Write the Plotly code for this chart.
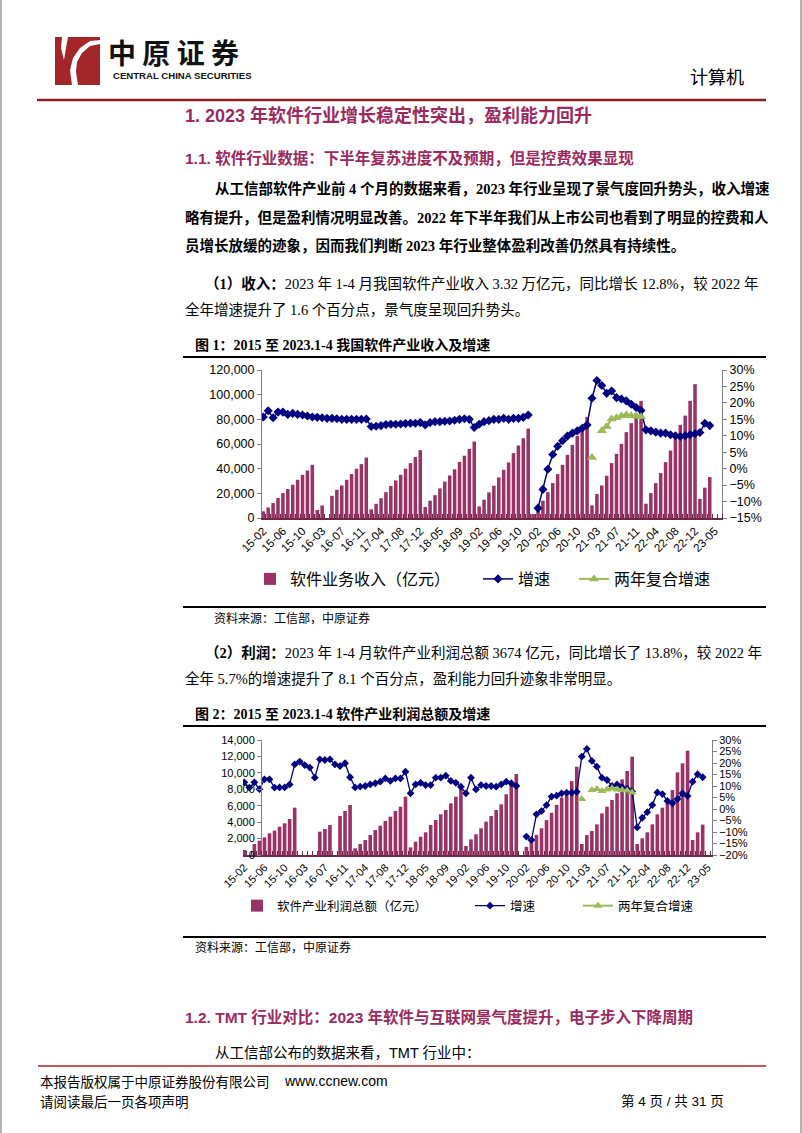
import plotly.graph_objects as go

W, H = 802, 1133
def X(p): return p / W
def Y(p): return 1 - p / H

# ---------------- data ----------------
tick_labels = ["15-02", "15-06", "15-10", "16-03", "16-07", "16-11", "17-04", "17-08",
               "17-12", "18-05", "18-09", "19-02", "19-06", "19-10", "20-02", "20-06",
               "20-10", "21-03", "21-07", "21-11", "22-04", "22-08", "22-12", "23-05"]

# 软件业务收入（亿元）, cumulative by month
rev_2015 = [5400, 8600, 12100, 16200, 20200, 23500, 27000, 31000, 35000, 38500, 43100]
rev_2016 = [6500, 10200, None, 18000, 22900, 26400, 31000, 35600, 39900, 43700, 49000]
rev_2017 = [7000, 11500, 16000, 21000, 26000, 30500, 35000, 40000, 44500, 49500, 55000]
rev_2018 = [9000, 14000, 18500, 24000, 29500, 34500, 39500, 45500, 50500, 56000, 62000]
rev_2019 = [9400, 14800, 20800, 26200, 32900, 39100, 45000, 52600, 58800, 64700, 72500]
rev_2020 = [3200, 8000, 14000, 21000, 28300, 35600, 43100, 51200, 59300, 66600, 72300, 82000]
rev_2021 = [10250, 19400, 26400, 34200, 44500, 52000, 60100, 69600, 76900, 85000, 95000]
rev_2022 = [11600, 20200, 28300, 36400, 45300, 54700, 64700, 75500, 83000, 95000, 108500]
rev_2023 = [15500, 24600, 33200, None]

# 增速 (%)
revg_2015 = [15.7, 17.6, 15.5, 17.2, 17.2, 16.5, 16.8, 16.5, 16.3, 16.0, 15.7]
revg_2016 = [15.6, 15.5, 15.3, 15.3, 15.2, 15.0, 15.0, 15.0, 15.0, 15.0, 15.1]
revg_2017 = [12.8, 12.9, 13.1, 13.4, 13.5, 13.5, 13.6, 13.7, 13.8, 13.8, 14.0]
revg_2018 = [13.3, 14.0, 14.3, 14.3, 14.4, 14.5, 14.7, 15.0, 15.2, 15.0, 12.5]
revg_2019 = [13.5, 14.3, 14.6, 15.0, 15.0, 15.3, 15.0, 15.3, 15.3, 15.6, 16.3]
revg_2020 = [None, -12.0, -6.3, -0.2, 4.3, 6.8, 8.5, 9.9, 10.8, 11.5, 12.3, 13.3]
revg_2021 = [21.4, 26.8, 25.3, 22.9, 23.6, 21.6, 21.2, 20.6, 19.6, 18.6, 17.7]
revg_2022 = [11.8, 11.5, 11.1, 10.8, 10.8, 10.3, 10.0, 9.8, 10.0, 10.3, 10.6]
revg_2023 = [11.0, 13.8, 13.1, None]

# 两年复合增速 (%), 2021 only
revc_2021 = [3.4, None, 11.5, 12.8, 15.1, 15.5, 16.0, 16.3, 16.1, 16.0, 15.8]

# 软件产业利润总额（亿元）
pro_2015 = [610, None, 1340, 1745, 2150, 2640, 2960, 3450, 3855, 4380, 5760]
pro_2016 = [None, None, None, None, 2840, 3165, 3650, None, 4750, 5360, 6090]
pro_2017 = [810, 1340, 1830, 2430, 3040, 3570, 4140, 4670, 5360, 5880, 7100]
pro_2018 = [930, 1620, 2230, 2760, 3650, 4260, 4950, 5480, 6290, 7100, 8200]
pro_2019 = [1100, 1900, 2520, 3250, 4060, 4750, 5480, 6170, 7390, 8600, 9860]
pro_2020 = [None, 1000, 1650, 2450, 3250, 4250, 5150, 6100, 7000, 7700, 9000, 10750]
pro_2021 = [1340, 2430, 2920, 3730, 5070, 5880, 6700, 7510, 9210, 10230, 11970]
pro_2022 = [1340, 2030, 2760, 3730, 4950, 5760, 6570, 7910, 10060, 11160, 12700]
pro_2023 = [1830, 2760, 3700, None]

prog_2015 = [11.6, 9.3, 11.6, 8.6, 12.9, 12.9, 9.3, 9.4, 9.4, 10.7, 19.4]
prog_2016 = [20.6, 19.1, 18.0, 13.6, 21.6, 21.3, 21.6, 19.4, 18.7, 19.9, 13.8]
prog_2017 = [9.4, 9.7, 10.0, 10.7, 11.2, 11.9, 13.3, 12.2, 13.3, 13.3, 16.2]
prog_2018 = [6.8, 10.7, 11.4, 10.4, 10.4, 13.6, 13.6, 14.5, 12.2, 11.4, 9.7]
prog_2019 = [6.8, 13.6, 8.5, 10.4, 10.0, 10.0, 9.7, 10.7, 11.9, 11.2, 10.0]
prog_2020 = [None, -12.0, -13.5, -2.3, -0.9, 1.7, 5.4, 5.8, 6.8, 7.1, 7.1, 7.5]
prog_2021 = [22.8, 26.1, 20.9, 18.4, 13.6, 12.6, 10.0, 10.7, 9.5, 8.8, 7.6]
prog_2022 = [-8.0, -3.8, -1.4, 1.7, 7.2, 6.5, 3.5, 2.5, 4.3, 6.8, 5.7]
prog_2023 = [11.9, 15.1, 13.8, None]

proc_2021 = [4.3, None, 8.3, 8.7, 7.8, 8.5, 9.0, 8.5, 8.3, 8.0, 7.2]

# ---------------- assemble series ----------------
months = []
for yy in range(15, 24):
    if yy == 20:
        mlist = range(1, 13)
    elif yy == 23:
        mlist = range(2, 6)
    else:
        mlist = range(2, 13)
    for m in mlist:
        months.append(f"{yy}-{m:02d}")
pos = list(range(len(months)))
tickpos = [months.index(t) for t in tick_labels]

revenue = rev_2015 + rev_2016 + rev_2017 + rev_2018 + rev_2019 + rev_2020 + rev_2021 + rev_2022 + rev_2023
rev_growth = revg_2015 + revg_2016 + revg_2017 + revg_2018 + revg_2019 + revg_2020 + revg_2021 + revg_2022 + revg_2023
n_before_2021 = len(rev_2015 + rev_2016 + rev_2017 + rev_2018 + rev_2019 + rev_2020)
rev_cagr = [None] * n_before_2021 + revc_2021 + [None] * (len(months) - n_before_2021 - len(revc_2021))

profit = pro_2015 + pro_2016 + pro_2017 + pro_2018 + pro_2019 + pro_2020 + pro_2021 + pro_2022 + pro_2023
pro_growth = prog_2015 + prog_2016 + prog_2017 + prog_2018 + prog_2019 + prog_2020 + prog_2021 + prog_2022 + prog_2023
pro_cagr = [None] * n_before_2021 + proc_2021 + [None] * (len(months) - n_before_2021 - len(proc_2021))

BAR = "#993366"
NAVY = "#000080"
GREEN = "#9BBB59"
TITLE = "#9B2A5E"
CJK = "Noto Sans CJK SC"
BODY = "Liberation Serif, Noto Sans CJK SC"
ARIAL = "Liberation Sans, Arial, Noto Sans CJK SC"

fig = go.Figure()

# chart 1
fig.add_trace(go.Bar(x=pos, y=revenue, marker=dict(color=BAR, line=dict(width=0)), width=0.72,
                     name="软件业务收入（亿元）", xaxis="x", yaxis="y", legend="legend"))
fig.add_trace(go.Scatter(x=pos, y=rev_growth, mode="lines+markers", name="增速",
                         line=dict(color=NAVY, width=1.5),
                         marker=dict(symbol="diamond", size=7, color=NAVY),
                         xaxis="x", yaxis="y2", legend="legend2"))
fig.add_trace(go.Scatter(x=pos, y=rev_cagr, mode="lines+markers", name="两年复合增速",
                         line=dict(color=GREEN, width=2),
                         marker=dict(symbol="triangle-up", size=9, color=GREEN),
                         xaxis="x", yaxis="y2", legend="legend3"))
# chart 2
fig.add_trace(go.Bar(x=pos, y=profit, marker=dict(color=BAR, line=dict(width=0)), width=0.72,
                     name="软件产业利润总额（亿元）", xaxis="x2", yaxis="y3", legend="legend4"))
fig.add_trace(go.Scatter(x=pos, y=pro_growth, mode="lines+markers", name="增速",
                         line=dict(color=NAVY, width=1.3),
                         marker=dict(symbol="diamond", size=6, color=NAVY),
                         xaxis="x2", yaxis="y4", legend="legend5"))
fig.add_trace(go.Scatter(x=pos, y=pro_cagr, mode="lines+markers", name="两年复合增速",
                         line=dict(color=GREEN, width=2),
                         marker=dict(symbol="triangle-up", size=8, color=GREEN),
                         xaxis="x2", yaxis="y4", legend="legend6"))

axis_common = dict(showgrid=False, zeroline=False, showline=True, linecolor="#808080",
                   linewidth=1, ticks="outside", ticklen=4, tickcolor="#808080", automargin=False)

def xaxis_cfg(domain, anchor, rng, fsize):
    return dict(domain=domain, anchor=anchor, range=rng, tickmode="array", tickvals=tickpos,
                ticktext=tick_labels, tickangle=-45, ticks="", showgrid=False, zeroline=False,
                showline=True, linecolor="#6b2848", linewidth=1.5, automargin=False,
                tickfont=dict(family=ARIAL, size=fsize, color="#000"),
                minor=dict(tickmode="linear", tick0=-0.5, dtick=1, ticks="inside", ticklen=4,
                           tickcolor="#6b2848", showgrid=False))

fig.update_layout(
    width=W, height=H, margin=dict(l=0, r=0, t=0, b=0, pad=0, autoexpand=False),
    paper_bgcolor="white", plot_bgcolor="rgba(0,0,0,0)",
    bargap=0.28, showlegend=True,
    xaxis=xaxis_cfg([X(262), X(722)], "y", [-0.26, 93.5], 11.5),
    yaxis=dict(domain=[Y(518), Y(370)], range=[0, 120000], dtick=20000, tickformat=",",
               tickfont=dict(family=ARIAL, size=12.5, color="#000"), **axis_common),
    yaxis2=dict(overlaying="y", side="right", anchor="x", range=[-15, 30], dtick=5,
                ticksuffix="%", tickfont=dict(family=ARIAL, size=12.5, color="#000"), **axis_common),
    xaxis2=xaxis_cfg([X(243), X(712)], "y3", [-0.26, 92.85], 11),
    yaxis3=dict(domain=[Y(855), Y(740)], range=[0, 14000], dtick=2000, tickformat=",",
                tickfont=dict(family=ARIAL, size=11, color="#000"), **axis_common),
    yaxis4=dict(overlaying="y3", side="right", anchor="x2", range=[-20, 30], dtick=5,
                ticksuffix="%", tickfont=dict(family=ARIAL, size=11, color="#000"), **axis_common),
)

def leg(x, y, size):
    return dict(x=X(x), y=Y(y), xanchor="left", yanchor="middle", orientation="h",
                bgcolor="rgba(0,0,0,0)", font=dict(family=CJK, size=size, color="#000"),
                itemwidth=30)

fig.update_layout(legend=leg(250, 579, 16), legend2=leg(478, 579, 16), legend3=leg(574, 579, 16),
                  legend4=leg(237, 906, 12.5), legend5=leg(470, 906, 12.5), legend6=leg(578, 906, 12.5))

# ---------------- page text ----------------
ann = []
def T(x, y, text, size, family=BODY, color="#000", anchor="left"):
    ann.append(dict(x=X(x), y=Y(y), xref="paper", yref="paper", text=text, showarrow=False,
                    xanchor=anchor, yanchor="middle", font=dict(family=family, size=size, color=color)))

# header
T(106, 52, "<b>中 原 证 券</b>", 28, family=CJK, color="#111")
T(111, 76, "<b>CENTRAL CHINA SECURITIES</b>", 9.6, family="Liberation Sans Narrow, Liberation Sans", color="#111")
T(746, 76, "计算机", 18, family=CJK, anchor="right")

T(183, 115, "<b>1. 2023 年软件行业增长稳定性突出，盈利能力回升</b>", 18, family=ARIAL, color=TITLE)
T(183, 158, "<b>1.1. 软件行业数据：下半年复苏进度不及预期，但是控费效果显现</b>", 15.5, family=ARIAL, color=TITLE)

T(213, 188, "<b>从工信部软件产业前 4 个月的数据来看，2023 年行业呈现了景气度回升势头，收入增速</b>", 14.5)
T(183, 217, "<b>略有提升，但是盈利情况明显改善。2022 年下半年我们从上市公司也看到了明显的控费和人</b>", 14.5)
T(183, 246, "<b>员增长放缓的迹象，因而我们判断 2023 年行业整体盈利改善仍然具有持续性。</b>", 14.5)

T(203, 283, "<b>（1）收入：</b>2023 年 1-4 月我国软件产业收入 3.32 万亿元，同比增长 12.8%，较 2022 年", 14.5)
T(183, 309, "全年增速提升了 1.6 个百分点，景气度呈现回升势头。", 14.5)

T(193, 345, "<b>图 1：2015 至 2023.1-4 我国软件产业收入及增速</b>", 14)
T(212, 618, "资料来源：工信部，中原证券", 12)

T(203, 652, "<b>（2）利润：</b>2023 年 1-4 月软件产业利润总额 3674 亿元，同比增长了 13.8%，较 2022 年", 14.5)
T(183, 678, "全年 5.7%的增速提升了 8.1 个百分点，盈利能力回升迹象非常明显。", 14.5)

T(193, 714, "<b>图 2：2015 至 2023.1-4 软件产业利润总额及增速</b>", 14)
T(193, 947, "资料来源：工信部，中原证券", 12)

T(183, 1017, "<b>1.2. TMT 行业对比：2023 年软件与互联网景气度提升，电子步入下降周期</b>", 15.5, family=ARIAL, color=TITLE)
T(213, 1053, "从工信部公布的数据来看，TMT 行业中：", 14.5, family="Liberation Sans, Noto Sans CJK SC")

T(38, 1081, "本报告版权属于中原证券股份有限公司", 13.5, family=CJK)
T(282, 1081, "www.ccnew.com", 14, family=ARIAL)
T(38, 1101, "请阅读最后一页各项声明", 13.5, family=CJK)
T(726, 1101, "第 4 页 / 共 31 页", 13.5, family="Liberation Sans, Noto Sans CJK SC", anchor="right")

fig.update_layout(annotations=ann)

# ---------------- page shapes ----------------
shapes = []
def line(x0, y0, x1, y1, color, w):
    shapes.append(dict(type="line", xref="paper", yref="paper", x0=X(x0), y0=Y(y0), x1=X(x1), y1=Y(y1),
                       line=dict(color=color, width=w)))
# page border
line(1, 0, 1, H, "#9a9a9a", 1.5)
line(801, 0, 801, H, "#9a9a9a", 1.5)
# logo block
shapes.append(dict(type="rect", xref="paper", yref="paper", x0=X(55), y0=Y(85), x1=X(100), y1=Y(37),
                   fillcolor="#A3262A", line=dict(width=0)))
def P(pts):
    s = ""
    for i, (a, b) in enumerate(pts):
        s += ("M" if i == 0 else "L") + f"{X(a):.5f},{Y(b):.5f} "
    return s + "Z"
shapes.append(dict(type="path", xref="paper", yref="paper",
                   path=P([(72, 85), (70, 70), (73, 58), (80, 48), (90, 41), (100, 40), (100, 44),
                           (90, 46), (82, 53), (77, 62), (76, 72), (78, 85)]),
                   fillcolor="white", line=dict(width=0)))
shapes.append(dict(type="path", xref="paper", yref="paper",
                   path=P([(62, 37), (68, 37), (66, 48), (64, 60), (61, 48)]),
                   fillcolor="white", line=dict(width=0)))
# header rule
line(37, 100, 766, 100, "#8B1F24", 2.5)
# figure rules
line(183, 357, 766, 357, "#000", 2)
line(183, 607, 766, 607, "#000", 2)
line(183, 726, 766, 726, "#000", 2)
line(183, 937, 766, 937, "#000", 2)
# footer rule
line(38, 1066, 766, 1066, "#B0232A", 1.5)
fig.update_layout(shapes=shapes)

fig.write_html("out.html")
